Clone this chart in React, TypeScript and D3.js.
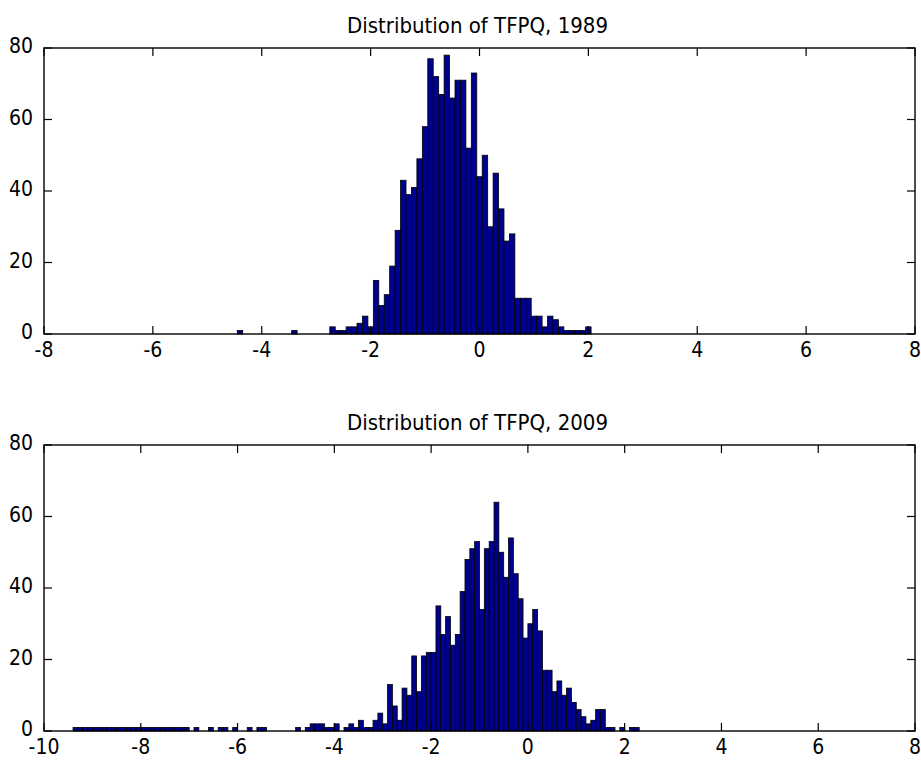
import React from "react";
import * as d3 from "d3";

const binWidth = 0.1;

// TFPQ 1989, bin centres start at -4.4
const start1989 = -4.4;
const counts1989 = [
  1, 0, 0, 0, 0, 0, 0, 0, 0, 0,
  1, 0, 0, 0, 0, 0, 0,
  2, 1, 1, 2, 2, 3, 5, 2,
  15, 8, 11, 19, 29, 43, 39, 41, 49, 58,
  77, 72, 67, 78, 66, 71, 71, 52, 73,
  44, 50, 30, 45, 35, 26, 28, 10, 10, 10,
  5, 5, 2, 5, 4, 2, 1, 1, 1, 1, 2,
];

// TFPQ 2009, bin centres start at -9.35
const start2009 = -9.35;
const counts2009 = [
  1, 1, 1, 1, 1, 1, 1, 1, 1, 1, 1, 1, 1, 1, 1, 1, 1, 1, 1, 1, 1, 1, 1, 1,
  0, 1, 0, 0, 1, 0, 1, 1, 0, 1,
  0, 0, 1, 0, 1, 1, 0, 0, 0, 0,
  0, 0, 1, 0, 1, 2, 2, 2, 1, 1,
  2, 0, 1, 2, 1, 3, 1, 1, 3, 5,
  2, 13, 7, 3, 12, 10, 21, 11, 21, 22,
  22, 35, 27, 32, 24, 27, 39, 48, 51, 53,
  34, 51, 53, 64, 50, 43, 54, 44, 37, 26,
  30, 34, 28, 17, 17, 11, 14, 10, 12, 8,
  6, 4, 2, 3, 6, 6, 1, 1, 0, 1,
  0, 1, 1,
];

const yTicks = [0, 20, 40, 60, 80];
const xTicks1989 = [-8, -6, -4, -2, 0, 2, 4, 6, 8];
const xTicks2009 = [-10, -8, -6, -4, -2, 0, 2, 4, 6, 8];

const panels = [
  { title: "Distribution of TFPQ, 1989", start: start1989, counts: counts1989, domain: [-8, 8], xTicks: xTicks1989, top: 48 },
  { title: "Distribution of TFPQ, 2009", start: start2009, counts: counts2009, domain: [-10, 8], xTicks: xTicks2009, top: 445 },
];

const W = 921;
const H = 760;
const left = 44;
const right = 915;
const plotH = 286;
const tickLen = 8;
const font = "'Liberation Sans Narrow', 'DejaVu Sans Condensed', 'Liberation Sans', sans-serif";

const Panel = ({ p }: { p: (typeof panels)[number] }) => {
  const x = d3.scaleLinear().domain(p.domain).range([left, right]);
  const y = d3.scaleLinear().domain([0, 80]).range([p.top + plotH, p.top]);
  const bottom = p.top + plotH;
  return (
    <g>
      <text x={(left + right) / 2 - 2} y={p.top - 15} textAnchor="middle" fontSize={22} fontFamily={font} fill="#000">
        {p.title}
      </text>
      {p.counts.map((c, i) => {
        if (c === 0) return null;
        const centre = p.start + i * binWidth;
        const x0 = x(centre - binWidth / 2);
        const x1 = x(centre + binWidth / 2);
        return (
          <rect key={i} x={x0} y={y(c)} width={x1 - x0} height={y(0) - y(c)}
            fill="#00008f" stroke="#000" strokeWidth={0.8} />
        );
      })}
      <rect x={left} y={p.top} width={right - left} height={plotH} fill="none" stroke="#000" strokeWidth={1.4} />
      {p.xTicks.map(t => (
        <g key={t}>
          <line x1={x(t)} x2={x(t)} y1={bottom} y2={bottom - tickLen} stroke="#000" strokeWidth={1.2} />
          <line x1={x(t)} x2={x(t)} y1={p.top} y2={p.top + tickLen} stroke="#000" strokeWidth={1.2} />
          <text x={x(t)} y={bottom + 23} textAnchor="middle" fontSize={21} fontFamily={font}>{t}</text>
        </g>
      ))}
      {yTicks.map(t => (
        <g key={t}>
          <line x1={left} x2={left + tickLen} y1={y(t)} y2={y(t)} stroke="#000" strokeWidth={1.2} />
          <line x1={right} x2={right - tickLen} y1={y(t)} y2={y(t)} stroke="#000" strokeWidth={1.2} />
          <text x={33} y={y(t) + 5} textAnchor="end" fontSize={21} fontFamily={font}>{t}</text>
        </g>
      ))}
    </g>
  );
};

export default function App() {
  return (
    <div style={{ position: "absolute", left: 0, top: 0 }}>
      <svg width={W} height={H} style={{ display: "block", background: "#fff" }}>
        {panels.map(p => <Panel key={p.title} p={p} />)}
      </svg>
    </div>
  );
}
